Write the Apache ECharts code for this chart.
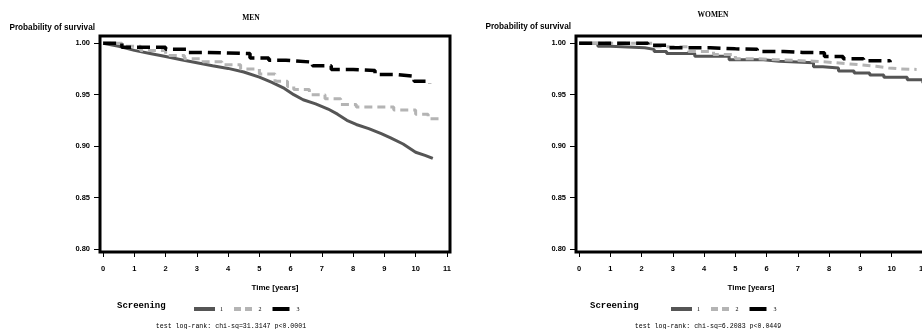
<!DOCTYPE html>
<html>
<head>
<meta charset="utf-8">
<title>Probability of survival by screening</title>
<script src="https://cdn.jsdelivr.net/npm/echarts@6/dist/echarts.min.js"></script>
<style>
  html, body { margin: 0; padding: 0; background: #fff; }
  #chart { width: 922px; height: 329px; }
</style>
</head>
<body>
<div id="chart"></div>
<script>
// tick labels
var timeTicks = [0, 1, 2, 3, 4, 5, 6, 7, 8, 9, 10, 11];
var survTicks = [0.80, 0.85, 0.90, 0.95, 1.00];
var groups = ['1', '2', '3'];

// MEN - screening 1
var menTime1 = [0, 0.5, 1.0, 1.5, 2.0, 2.5, 3.0, 3.5, 4.0, 4.5, 5.0, 5.4, 5.8, 6.1, 6.4, 6.8, 7.2, 7.5, 7.8, 8.1, 8.5, 8.9, 9.2, 9.6, 10.0, 10.3, 10.55];
var menSurv1 = [1.0, 0.997, 0.993, 0.990, 0.987, 0.984, 0.981, 0.978, 0.9755, 0.972, 0.967, 0.962, 0.956, 0.950, 0.945, 0.941, 0.936, 0.931, 0.925, 0.921, 0.917, 0.912, 0.908, 0.902, 0.894, 0.891, 0.888];
// MEN - screening 2
var menTime2 = [0, 0.6, 1.2, 2.0, 2.6, 3.2, 3.8, 4.4, 5.0, 5.5, 5.9, 6.1, 6.6, 7.1, 7.6, 8.1, 9.3, 10.0, 10.4, 10.8];
var menSurv2 = [1.0, 0.997, 0.993, 0.988, 0.985, 0.982, 0.979, 0.975, 0.970, 0.963, 0.958, 0.955, 0.950, 0.946, 0.9405, 0.938, 0.935, 0.931, 0.9265, 0.925];
// MEN - screening 3
var menTime3 = [0, 0.6, 2.0, 2.7, 3.3, 4.0, 4.7, 5.3, 5.85, 6.7, 7.3, 8.0, 8.7, 9.4, 9.95, 10.45];
var menSurv3 = [1.0, 0.996, 0.994, 0.991, 0.9905, 0.990, 0.9857, 0.9835, 0.9816, 0.978, 0.9745, 0.9735, 0.9696, 0.968, 0.963, 0.961];

// WOMEN - screening 1
var womenTime1 = [0, 0.6, 1.0, 2.1, 2.4, 2.8, 3.7, 4.8, 5.9, 6.4, 7.5, 7.8, 8.3, 8.8, 9.3, 9.75, 10.5, 11.0, 11.2];
var womenSurv1 = [1.0, 0.997, 0.9955, 0.994, 0.992, 0.990, 0.9874, 0.984, 0.9825, 0.981, 0.977, 0.976, 0.973, 0.971, 0.969, 0.967, 0.9645, 0.9615, 0.960];
// WOMEN - screening 2
var womenTime2 = [0, 2.4, 3.5, 4.3, 5.0, 5.6, 6.3, 7.5, 8.0, 8.6, 9.0, 9.5, 9.9, 10.3, 10.8];
var womenSurv2 = [1.0, 0.9965, 0.992, 0.989, 0.985, 0.984, 0.9825, 0.9815, 0.980, 0.979, 0.9775, 0.976, 0.975, 0.9745, 0.9745];
// WOMEN - screening 3
var womenTime3 = [0, 2.2, 2.8, 4.2, 5.0, 5.7, 6.55, 7.15, 7.85, 8.45, 9.1, 9.95];
var womenSurv3 = [1.0, 0.998, 0.9955, 0.9945, 0.994, 0.992, 0.991, 0.9907, 0.987, 0.985, 0.983, 0.9816];

var lineStyles = {
    '1': { color: '#555555', width: 3, type: 'solid' },
    '2': { color: '#b4b4b4', width: 3, type: [8, 5] },
    '3': { color: '#000000', width: 3.5, type: [13, 6] }
};

// legend swatches: solid bar, two dashes, short bar
var legendIcons = {
    '1': 'path://M0,0H21V4H0Z',
    '2': 'path://M0,0H7V4H0Z M11,0H18V4H11Z',
    '3': 'path://M0,0H17V4H0Z'
};

function pairUp(times, surv) {
    return times.map(function (t, i) { return [t, surv[i]]; });
}

function makeSeries(name, idx, times, surv, step) {
    return {
        name: name,
        type: 'line',
        step: step,
        xAxisIndex: idx,
        yAxisIndex: idx,
        symbol: 'none',
        silent: true,
        color: lineStyles[name].color,
        lineStyle: lineStyles[name],
        data: pairUp(times, surv)
    };
}

function makeGrid(left) {
    return {
        left: left, top: 36, width: 350, height: 216,
        show: true, borderColor: '#000', borderWidth: 3,
        outerBoundsMode: 'none'
    };
}

function makeXAxis(idx) {
    return {
        type: 'value', gridIndex: idx, min: -0.1, max: 11.1,
        name: 'Time [years]', nameLocation: 'middle', nameGap: 32,
        nameTextStyle: { fontSize: 8, fontWeight: 'bold', color: '#000', fontFamily: 'Liberation Sans' },
        axisLine: { show: false, onZero: false },
        splitLine: { show: false },
        axisTick: { show: true, length: 5, customValues: timeTicks, lineStyle: { color: '#000', width: 1 } },
        axisLabel: { customValues: timeTicks, margin: 13, fontSize: 7.5, fontWeight: 'bold', color: '#000', fontFamily: 'Liberation Sans' }
    };
}

function makeYAxis(idx) {
    return {
        type: 'value', gridIndex: idx, min: 0.797, max: 1.007,
        axisLine: { show: false, onZero: false },
        splitLine: { show: false },
        axisTick: { show: true, length: 6, customValues: survTicks, lineStyle: { color: '#000', width: 1 } },
        axisLabel: {
            customValues: survTicks, margin: 10, fontSize: 7.5, fontWeight: 'bold', color: '#000',
            fontFamily: 'Liberation Sans',
            formatter: function (v) { return v.toFixed(2); }
        }
    };
}

function makeLegend(left) {
    return {
        data: groups.map(function (g) { return { name: g, icon: legendIcons[g] }; }),
        left: left, top: 301, itemWidth: 21, itemHeight: 4, itemGap: 11,
        selectedMode: false,
        textStyle: { fontSize: 6, color: '#000', fontFamily: 'Liberation Serif', padding: [3, 0, 0, 0] }
    };
}

function label(x, y, text, font, align) {
    return {
        type: 'text', x: x, y: y, silent: true,
        style: { text: text, font: font, fill: '#000', align: align, verticalAlign: 'middle' }
    };
}

var chart = echarts.init(document.getElementById('chart'));
chart.setOption({
    animation: false,
    backgroundColor: '#fff',
    grid: [makeGrid(100), makeGrid(576)],
    xAxis: [makeXAxis(0), makeXAxis(1)],
    yAxis: [makeYAxis(0), makeYAxis(1)],
    legend: [makeLegend(189), makeLegend(666)],
    graphic: [
        label(251, 18, 'MEN', 'bold 7.5px "Liberation Serif"', 'center'),
        label(713, 15.5, 'WOMEN', 'bold 7.5px "Liberation Serif"', 'center'),
        label(95, 27.5, 'Probability of survival', 'bold 8.2px "Liberation Sans"', 'right'),
        label(571, 27, 'Probability of survival', 'bold 8.2px "Liberation Sans"', 'right'),
        label(117, 305.5, 'Screening', 'bold 9px "Liberation Mono"', 'left'),
        label(590, 305.5, 'Screening', 'bold 9px "Liberation Mono"', 'left'),
        label(231, 326, 'test log-rank: chi-sq=31.3147 p<0.0001', '6.6px "Liberation Mono"', 'center'),
        label(708, 326, 'test log-rank: chi-sq=6.2083 p<0.0449', '6.6px "Liberation Mono"', 'center')
    ],
    series: [
        makeSeries('1', 0, menTime1, menSurv1, false),
        makeSeries('2', 0, menTime2, menSurv2, 'end'),
        makeSeries('3', 0, menTime3, menSurv3, 'end'),
        makeSeries('1', 1, womenTime1, womenSurv1, 'end'),
        makeSeries('2', 1, womenTime2, womenSurv2, 'end'),
        makeSeries('3', 1, womenTime3, womenSurv3, 'end')
    ]
});

window.addEventListener('resize', function () {
    chart.resize();
});
</script>
</body>
</html>
